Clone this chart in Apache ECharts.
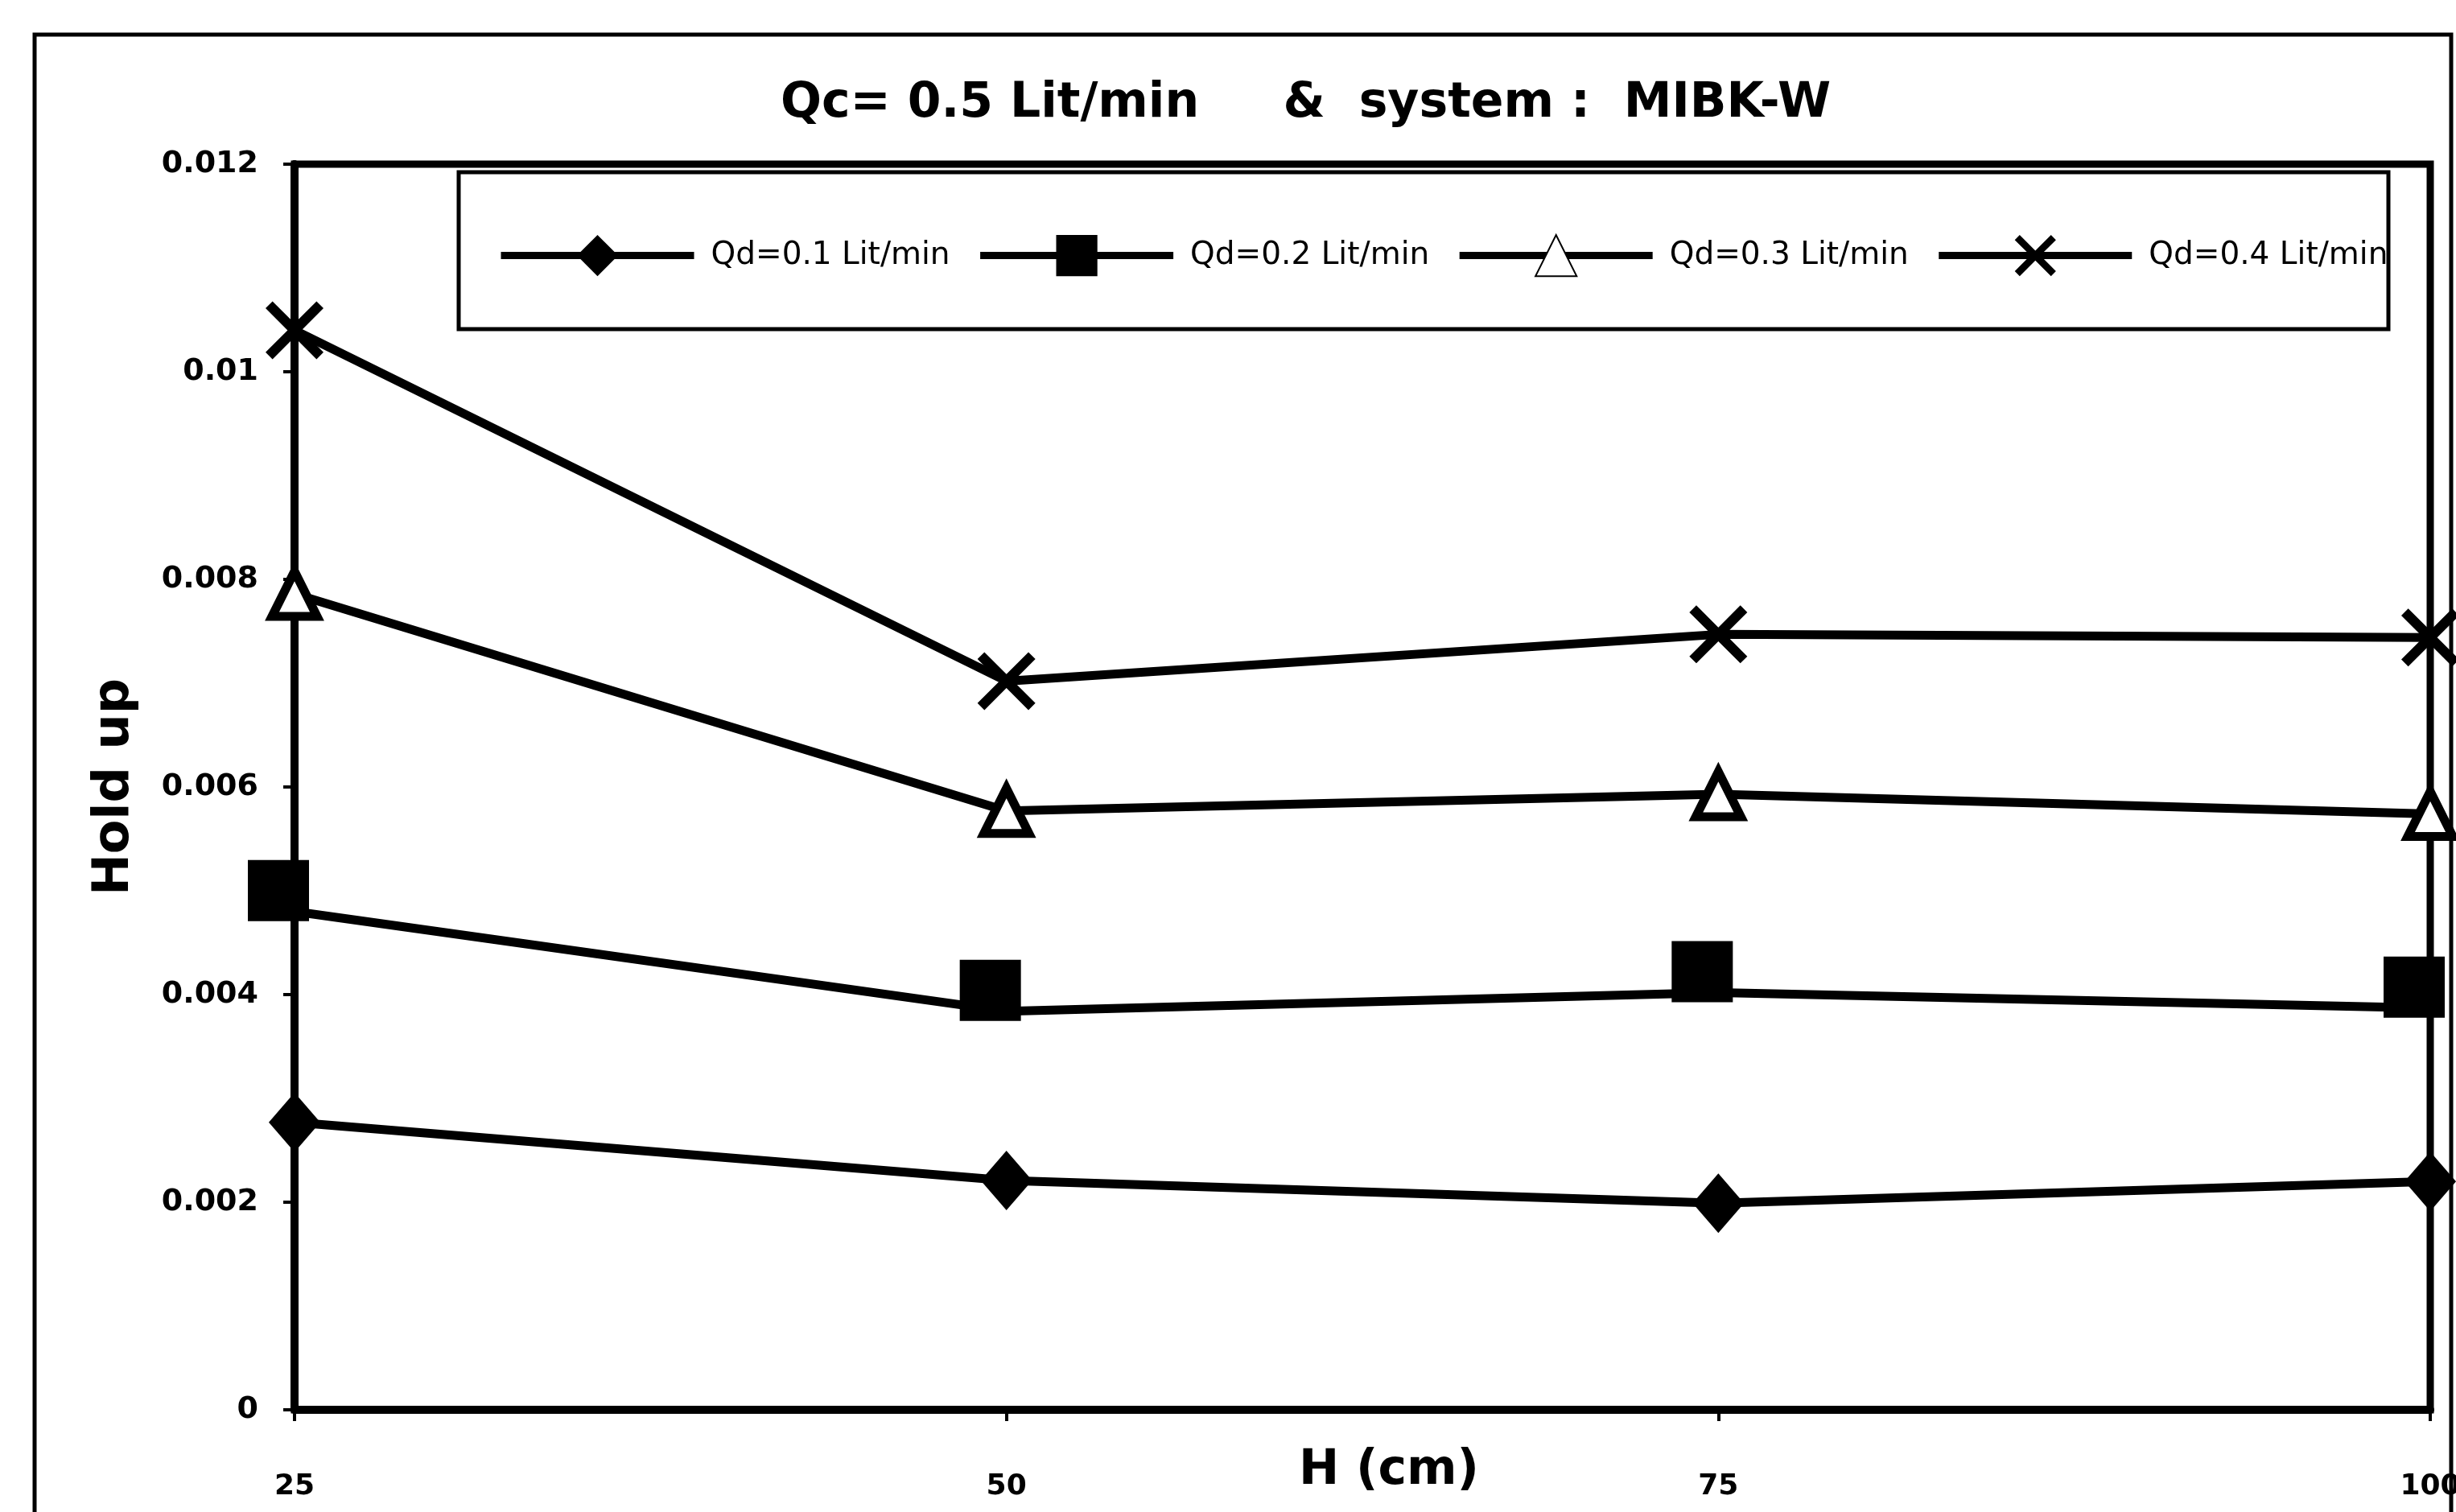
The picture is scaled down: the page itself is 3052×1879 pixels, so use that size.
<!DOCTYPE html>
<html>
<head>
<meta charset="utf-8">
<script src="https://cdn.jsdelivr.net/npm/echarts@6/dist/echarts.min.js"></script>
<style>
  html, body { margin: 0; padding: 0; background: #fff; }
  #holdup { width: 3052px; height: 1879px; }
</style>
</head>
<body>
<div id="holdup"></div>
<script>
// chart初始化
var holdupchart = echarts.init(document.getElementById('holdup'));

// 数据
var heights = ['25', '50', '75', '100'];
var labels = ['Qd=0.1 Lit/min', 'Qd=0.2 Lit/min', 'Qd=0.3 Lit/min', 'Qd=0.4 Lit/min'];
var qd01 = [0.00277, 0.00221, 0.00199, 0.00220];
var qd02 = [0.00480, 0.00384, 0.00402, 0.00387];
var qd03 = [0.00786, 0.00577, 0.00593, 0.00574];
var qd04 = [0.01040, 0.00702, 0.00747, 0.00744];

// X 形状的标记
var crossPath = 'path://M0,12 L12,0 L50,38 L88,0 L100,12 L62,50 L100,88 L88,100 L50,62 L12,100 L0,88 L38,50 Z';

function lineSeries(name, data, symbol, size, item, offset){
  return {
    name: name,
    type: 'line',
    data: data,
    symbol: symbol,
    symbolSize: size,
    symbolOffset: offset || [0, 0],
    showAllSymbol: true,
    lineStyle: { color: '#000', width: 11 },
    itemStyle: item,
    z: 3
  };
}

function setlineChart(){
  var option = {
    backgroundColor: '#fff',
    animation: false,
    title: {
      text: 'Qc= 0.5 Lit/min     &  system :  MIBK-W',
      left: 965,
      top: 94,
      textStyle: {
        fontFamily: 'DejaVu Sans',
        fontWeight: 'bold',
        fontSize: 60,
        color: '#000'
      }
    },
    // 图例
    legend: {
      left: 613,
      top: 286,
      itemWidth: 240,
      itemHeight: 64,
      itemGap: 33,
      data: labels,
      lineStyle: { width: 9, color: '#000' },
      textStyle: {
        fontFamily: 'DejaVu Sans',
        fontSize: 39,
        color: '#000',
        padding: [0, 0, 0, 16]
      }
    },
    grid: {
      left: 366,
      right: 32,
      top: 204,
      bottom: 127,
      outerBoundsMode: 'none',
      show: true,
      borderColor: '#000',
      borderWidth: 9
    },
    xAxis: {
      type: 'category',
      data: heights,
      boundaryGap: false,
      name: 'H (cm)',
      nameLocation: 'middle',
      nameGap: 46,
      nameMoveOverlap: false,
      nameTextStyle: {
        fontFamily: 'DejaVu Sans',
        fontWeight: 'bold',
        fontSize: 60,
        color: '#000',
        verticalAlign: 'top',
        padding: [0, 0, 0, 66]
      },
      axisLine: { lineStyle: { color: '#000', width: 10 } },
      axisTick: { show: true, length: 14, lineStyle: { color: '#000', width: 4 } },
      axisLabel: {
        margin: 78,
        fontFamily: 'DejaVu Sans',
        fontWeight: 'bold',
        fontSize: 36,
        color: '#000'
      },
      splitLine: { show: false }
    },
    yAxis: {
      type: 'value',
      min: 0,
      max: 0.012,
      interval: 0.002,
      name: 'Hold up',
      nameLocation: 'middle',
      nameRotate: 90,
      nameGap: 192,
      nameMoveOverlap: false,
      nameTextStyle: {
        fontFamily: 'DejaVu Sans',
        fontWeight: 'bold',
        fontSize: 62,
        color: '#000'
      },
      axisLine: { show: true, lineStyle: { color: '#000', width: 10 } },
      axisTick: { show: true, length: 14, lineStyle: { color: '#000', width: 4 } },
      axisLabel: {
        margin: 45,
        fontFamily: 'DejaVu Sans',
        fontWeight: 'bold',
        fontSize: 38,
        color: '#000'
      },
      splitLine: { show: false }
    },
    // 外框和图例框
    graphic: [
      {
        type: 'rect',
        shape: { x: 43, y: 43, width: 3003, height: 2000 },
        style: { fill: 'none', stroke: '#000', lineWidth: 5 },
        silent: true
      },
      {
        type: 'rect',
        shape: { x: 570, y: 214, width: 2398, height: 195 },
        style: { fill: 'none', stroke: '#000', lineWidth: 5 },
        silent: true
      }
    ],
    series: [
      lineSeries(labels[0], qd01, 'diamond', [64, 74], { color: '#000' }),
      lineSeries(labels[1], qd02, 'rect', 76, { color: '#000' }, [-20, -26]),
      lineSeries(labels[2], qd03, 'triangle', 56, { color: '#fff', borderColor: '#000', borderWidth: 11 }),
      lineSeries(labels[3], qd04, crossPath, 72, { color: '#000' })
    ]
  };

  holdupchart.setOption(option);
}

setlineChart();
</script>
</body>
</html>
